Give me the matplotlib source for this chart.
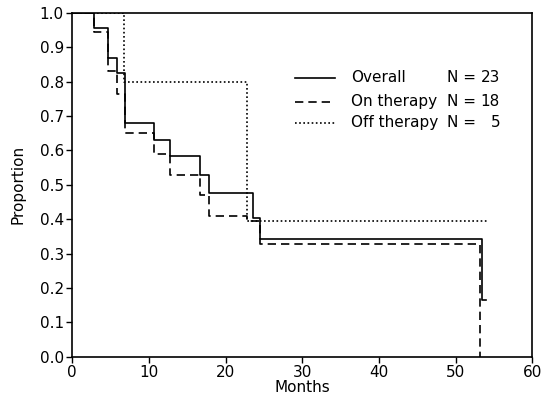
import numpy as np
import matplotlib
matplotlib.use("Agg")
import matplotlib.pyplot as plt

# survival curves (months, proportion)
overall_t = [0, 2.8, 4.7, 5.9, 6.9, 10.7, 12.7, 16.7, 17.8, 23.6, 24.5, 53.4, 54.0]
overall_s = [1.0, 0.957, 0.87, 0.826, 0.68, 0.63, 0.585, 0.53, 0.477, 0.405, 0.343, 0.165, 0.165]

on_t = [0, 2.8, 4.7, 5.8, 6.9, 10.7, 12.7, 16.7, 17.8, 22.8, 24.5, 53.2]
on_s = [1.0, 0.944, 0.83, 0.765, 0.65, 0.59, 0.53, 0.47, 0.41, 0.395, 0.328, 0.0]

off_t = [0, 6.8, 22.8, 54.3]
off_s = [1.0, 0.8, 0.395, 0.395]

names = ["Overall", "On therapy", "Off therapy"]
counts = [23, 18, 5]
styles = ["-", (0, (5, 3)), (0, (1, 1.5))]

fig = plt.figure(figsize=(5.55, 4.01), dpi=100)
ax = fig.add_axes([0.130, 0.110, 0.829, 0.858])

curves = [(overall_t, overall_s), (on_t, on_s), (off_t, off_s)]
for (t, s), ls in zip(curves, styles):
    ax.step(t, s, where="post", color="black", linestyle=ls, lw=1.2)

ax.set_xlim(0, 60)
ax.set_ylim(0, 1.0)
ax.set_xticks(np.arange(0, 61, 10))
ax.set_yticks(np.arange(0, 1.01, 0.1))
ax.set_yticklabels(["%.1f" % v for v in np.arange(0, 1.01, 0.1)])
ax.tick_params(direction="out", length=4, width=1, labelsize=11, pad=2)
for sp in ax.spines.values():
    sp.set_linewidth(1.2)

ax.set_xlabel("Months", fontsize=11, labelpad=0)
ax.set_ylabel("Proportion", fontsize=11, labelpad=10)

# hand-drawn key, like the original
rows_y = [0.811, 0.741, 0.680]
for name, n, ls, y in zip(names, counts, styles, rows_y):
    ax.plot([0.485, 0.572], [y, y], transform=ax.transAxes, color="black",
            linestyle=ls, lw=1.2)
    ax.text(0.607, y, name, transform=ax.transAxes, fontsize=11, va="center")
    ax.text(0.815, y, "N =", transform=ax.transAxes, fontsize=11, va="center")
    ax.text(0.93, y, str(n), transform=ax.transAxes, fontsize=11,
            va="center", ha="right")

fig.savefig("out.png", dpi=100)
